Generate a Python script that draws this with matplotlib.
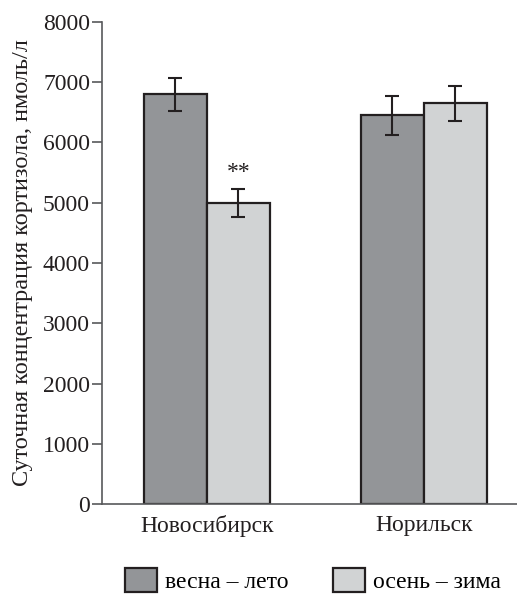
import matplotlib
matplotlib.use("Agg")
import matplotlib.pyplot as plt
from matplotlib.patches import Patch
import numpy as np

plt.rcParams['font.family'] = ['Liberation Serif', 'DejaVu Serif']

cities = ["Новосибирск", "Норильск"]
series_names = ["весна – лето", "осень – зима"]
spring_summer = [6800, 6450]
autumn_winter = [5000, 6650]
spring_err = [270, 320]
autumn_err = [235, 290]
yticks = [0, 1000, 2000, 3000, 4000, 5000, 6000, 7000, 8000]

dark = "#939598"
light = "#d1d3d4"
edge = "#231f20"

fig = plt.figure(figsize=(5.17, 5.94), dpi=100)
ax = fig.add_axes([0.197, 0.1515, 0.803, 0.8115])

x = np.arange(len(cities))
w = 0.29
ekw = dict(ecolor=edge, elinewidth=1.5, capsize=5, capthick=1.5)
ax.bar(x - w / 2, spring_summer, w, yerr=spring_err, color=dark,
       edgecolor=edge, linewidth=1.6, error_kw=ekw, zorder=2)
ax.bar(x + w / 2, autumn_winter, w, yerr=autumn_err, color=light,
       edgecolor=edge, linewidth=1.6, error_kw=ekw, zorder=2)

ax.text(x[0] + w / 2, autumn_winter[0] + autumn_err[0] + 260, "**",
        ha="center", va="center", fontsize=17, color=edge)

ax.set_xlim(-0.484, 1.429)
ax.set_ylim(0, 8000)
ax.set_yticks(yticks)
ax.set_yticklabels([str(v) for v in yticks], fontsize=17, color=edge)
ax.set_xticks(x)
ax.set_xticklabels(cities, fontsize=17, color=edge)
ax.tick_params(axis="x", length=0, pad=8)
ax.tick_params(axis="y", length=7, width=1.2, color="#58595b", pad=1.5)
for side in ("top", "right"):
    ax.spines[side].set_visible(False)
for side in ("left", "bottom"):
    ax.spines[side].set_color("#58595b")
    ax.spines[side].set_linewidth(1.2)

ax.set_ylabel("Суточная концентрация кортизола, нмоль/л", fontsize=17.5,
              color=edge, labelpad=7)

handles = [Patch(facecolor=dark, edgecolor=edge, linewidth=1.6),
           Patch(facecolor=light, edgecolor=edge, linewidth=1.6)]
fig.legend(handles, series_names, loc="lower center", ncol=2,
           bbox_to_anchor=(0.605, -0.034), frameon=False, fontsize=17,
           handlelength=1.36, handleheight=1.2, columnspacing=1.86,
           handletextpad=0.34)

fig.savefig("out.png", dpi=100)
